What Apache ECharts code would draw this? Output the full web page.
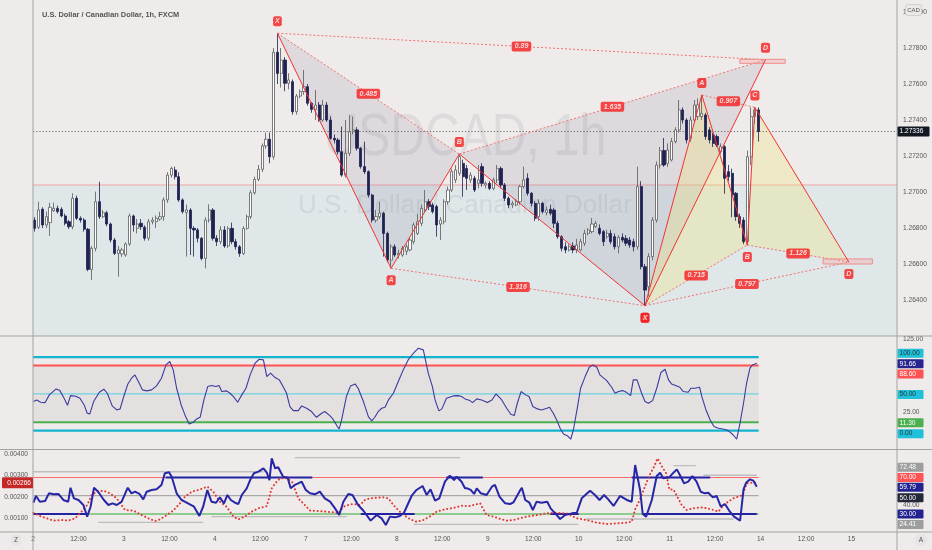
<!DOCTYPE html>
<html><head><meta charset="utf-8">
<script src="https://cdn.jsdelivr.net/npm/echarts@6/dist/echarts.min.js"></script>
<style>html,body{margin:0;padding:0;background:#eeebea;}#c{width:932px;height:550px;}</style>
</head><body><div id="c"></div><script>
// ---------- DATA ----------
const opens = [1.26844,1.26804,1.26904,1.26817,1.26830,1.26896,1.26909,1.26904,1.26867,1.26835,
1.26807,1.26965,1.26854,1.26844,1.26793,1.26570,1.26687,1.26946,1.26863,1.26885,
1.26822,1.26733,1.26659,1.26656,1.26650,1.26711,1.26867,1.26798,1.26826,1.26804,
1.26743,1.26835,1.26835,1.26850,1.26863,1.26956,1.27094,1.27122,1.27085,1.26956,
1.26885,1.26900,1.26798,1.26789,1.26743,1.26631,1.26844,1.26900,1.26743,1.26724,
1.26789,1.26700,1.26798,1.26724,1.26696,1.26659,1.26798,1.26863,1.26996,1.27070,
1.27126,1.27256,1.27293,1.27196,1.27776,1.27659,1.27733,1.27604,1.27613,1.27446,
1.27533,1.27558,1.27585,1.27493,1.27459,1.27483,1.27400,1.27483,1.27400,1.27298,
1.27289,1.27224,1.27094,1.27215,1.27335,1.27345,1.27243,1.27141,1.27113,1.26983,
1.26844,1.26863,1.26882,1.26770,1.26622,1.26696,1.26650,1.26650,1.26670,1.26678,
1.26724,1.26770,1.26826,1.26900,1.26946,1.26928,1.26919,1.26822,1.26835,1.26946,
1.27011,1.27067,1.27104,1.27159,1.27131,1.27067,1.27076,1.27048,1.27141,1.27039,
1.27048,1.27020,1.27067,1.27131,1.27039,1.26965,1.26928,1.26928,1.26946,1.27030,
1.27076,1.26993,1.26937,1.26863,1.26937,1.26885,1.26904,1.26900,1.26826,1.26752,
1.26696,1.26678,1.26700,1.26678,1.26678,1.26715,1.26770,1.26780,1.26808,1.26798,
1.26780,1.26752,1.26770,1.26752,1.26696,1.26748,1.26742,1.26733,1.26724,1.26696,
1.27030,1.26585,1.26474,1.26641,1.26844,1.27150,1.27230,1.27159,1.27178,1.27280,
1.27345,1.27456,1.27400,1.27298,1.27400,1.27420,1.27419,1.27428,1.27345,1.27317,
1.27308,1.27224,1.27252,1.27113,1.27104,1.26993,1.26863,1.26844,1.26724,1.27196,
1.27419,1.27456];
const closes = [1.26798,1.26900,1.26817,1.26863,1.26915,1.26909,1.26891,1.26867,1.26826,1.26807,
1.26965,1.26854,1.26844,1.26793,1.26570,1.26687,1.26946,1.26863,1.26885,1.26822,
1.26733,1.26659,1.26678,1.26678,1.26711,1.26867,1.26817,1.26822,1.26807,1.26743,
1.26835,1.26844,1.26854,1.26863,1.26956,1.27094,1.27131,1.27085,1.26956,1.26891,
1.26900,1.26798,1.26789,1.26743,1.26631,1.26844,1.26900,1.26743,1.26724,1.26789,
1.26700,1.26798,1.26724,1.26696,1.26659,1.26798,1.26863,1.26996,1.27070,1.27126,
1.27256,1.27293,1.27196,1.27776,1.27659,1.27733,1.27604,1.27622,1.27446,1.27533,
1.27558,1.27585,1.27493,1.27459,1.27483,1.27400,1.27483,1.27400,1.27298,1.27289,
1.27224,1.27094,1.27215,1.27335,1.27345,1.27243,1.27141,1.27113,1.26983,1.26844,
1.26863,1.26882,1.26770,1.26622,1.26696,1.26650,1.26659,1.26687,1.26696,1.26733,
1.26817,1.26835,1.26909,1.26946,1.26919,1.26891,1.26817,1.26844,1.26946,1.27011,
1.27113,1.27122,1.27196,1.27085,1.27076,1.27094,1.27011,1.27067,1.27048,1.27048,
1.27020,1.27067,1.27131,1.27039,1.26965,1.26928,1.26937,1.26946,1.27030,1.27067,
1.26993,1.26937,1.26854,1.26937,1.26891,1.26900,1.26882,1.26826,1.26752,1.26687,
1.26678,1.26696,1.26678,1.26705,1.26724,1.26770,1.26789,1.26822,1.26826,1.26770,
1.26724,1.26770,1.26724,1.26696,1.26748,1.26733,1.26715,1.26705,1.26696,1.27030,
1.26585,1.26455,1.26641,1.26844,1.27150,1.27230,1.27150,1.27233,1.27280,1.27345,
1.27456,1.27400,1.27289,1.27400,1.27483,1.27483,1.27437,1.27308,1.27289,1.27270,
1.27261,1.27252,1.27076,1.27085,1.26983,1.26863,1.26826,1.26724,1.27196,1.27419,
1.27456,1.27336];
const lows = [1.26780,1.26793,1.26800,1.26800,1.26756,1.26890,1.26880,1.26860,1.26815,1.26795,
1.26793,1.26845,1.26830,1.26780,1.26560,1.26511,1.26670,1.26850,1.26855,1.26810,
1.26720,1.26650,1.26530,1.26640,1.26640,1.26700,1.26780,1.26770,1.26790,1.26730,
1.26730,1.26820,1.26800,1.26840,1.26840,1.26940,1.27080,1.27070,1.26945,1.26880,
1.26641,1.26650,1.26641,1.26720,1.26620,1.26576,1.26830,1.26730,1.26700,1.26710,
1.26690,1.26690,1.26710,1.26680,1.26640,1.26650,1.26790,1.26850,1.26985,1.27060,
1.27110,1.27240,1.27160,1.27180,1.27600,1.27580,1.27560,1.27570,1.27430,1.27430,
1.27520,1.27540,1.27480,1.27440,1.27400,1.27390,1.27390,1.27390,1.27290,1.27270,
1.27210,1.27085,1.27080,1.27200,1.27320,1.27230,1.27130,1.27100,1.26970,1.26830,
1.26830,1.26850,1.26641,1.26610,1.26576,1.26640,1.26630,1.26640,1.26650,1.26670,
1.26710,1.26760,1.26810,1.26890,1.26900,1.26880,1.26752,1.26733,1.26820,1.26930,
1.27000,1.27050,1.27090,1.26974,1.27011,1.27050,1.27000,1.27020,1.27030,1.27020,
1.27010,1.27010,1.27050,1.27020,1.26950,1.26910,1.26910,1.26920,1.26930,1.27020,
1.26980,1.26920,1.26840,1.26840,1.26880,1.26870,1.26870,1.26800,1.26740,1.26670,
1.26660,1.26670,1.26660,1.26660,1.26670,1.26700,1.26760,1.26770,1.26800,1.26760,
1.26700,1.26740,1.26710,1.26680,1.26660,1.26720,1.26700,1.26690,1.26670,1.26680,
1.26570,1.26368,1.26420,1.26620,1.26830,1.27130,1.27140,1.27140,1.27170,1.27270,
1.27330,1.27380,1.27270,1.27280,1.27390,1.27400,1.27400,1.27290,1.27270,1.27250,
1.27250,1.27210,1.26990,1.27060,1.26860,1.26840,1.26800,1.26710,1.26705,1.27150,
1.27380,1.27280];
const highs = [1.26860,1.26946,1.26915,1.26891,1.26941,1.26941,1.26925,1.26915,1.26880,1.26845,
1.26993,1.26980,1.26865,1.26855,1.26800,1.26700,1.27002,1.27057,1.26900,1.26895,
1.26830,1.26745,1.26700,1.26690,1.26720,1.26880,1.26875,1.26850,1.26850,1.26815,
1.26850,1.26860,1.26870,1.26890,1.26970,1.27110,1.27141,1.27141,1.27110,1.26965,
1.26930,1.26910,1.26810,1.26800,1.26750,1.26860,1.26932,1.26910,1.26760,1.26810,
1.26810,1.26810,1.26830,1.26740,1.26705,1.26810,1.26875,1.27010,1.27085,1.27150,
1.27270,1.27330,1.27330,1.27800,1.27882,1.27800,1.27750,1.27660,1.27625,1.27545,
1.27570,1.27678,1.27600,1.27500,1.27567,1.27500,1.27511,1.27500,1.27420,1.27320,
1.27300,1.27363,1.27400,1.27428,1.27419,1.27360,1.27250,1.27280,1.27120,1.26990,
1.26900,1.26946,1.26890,1.26780,1.26710,1.26710,1.26680,1.26700,1.26710,1.26750,
1.26830,1.26880,1.26930,1.27011,1.26960,1.26940,1.26930,1.26860,1.26960,1.27030,
1.27130,1.27150,1.27211,1.27180,1.27150,1.27110,1.27090,1.27150,1.27160,1.27060,
1.27060,1.27080,1.27150,1.27141,1.27050,1.26975,1.26950,1.26960,1.27040,1.27141,
1.27104,1.27000,1.26950,1.26960,1.26946,1.26920,1.26930,1.26910,1.26840,1.26760,
1.26720,1.26710,1.26720,1.26740,1.26740,1.26790,1.26800,1.26855,1.26840,1.26820,
1.26790,1.26790,1.26790,1.26770,1.26760,1.26770,1.26760,1.26750,1.26740,1.27141,
1.27060,1.26600,1.26660,1.26860,1.27170,1.27250,1.27300,1.27270,1.27300,1.27360,
1.27511,1.27470,1.27410,1.27420,1.27511,1.27520,1.27539,1.27440,1.27360,1.27330,
1.27320,1.27270,1.27260,1.27150,1.27130,1.27000,1.26880,1.26860,1.27230,1.27470,
1.27470,1.27470];

const hourSlots = 228;                      // visible hourly slots on the time axis
const timeTickLabels = ['2','12:00','3','12:00','4','12:00','7','12:00','8','12:00','9','12:00','10','12:00','11','12:00','14','12:00','15','12:00'];
const priceZoneTop = 1.27039;

// harmonic patterns: [hour index, price]
const pat1Names = ['X','A','B','C','D'];
const pat1T = [64, 94, 112, 161, 192.8];
const pat1P = [1.27882, 1.26576, 1.27211, 1.26368, 1.27735];
const pat1Ratios = ['0.485','0.89','1.635','1.316'];
const pat1RatioLegs = [[0,2],[0,4],[2,4],[1,3]];
const pat1Zone = [186, 198, 1.27715, 1.27737];
const pat2Names = ['X','A','B','C','D'];
const pat2T = [161, 176, 188, 190, 214.8];
const pat2P = [1.26368, 1.27539, 1.26705, 1.27470, 1.26611];
const pat2Ratios = ['0.715','0.907','1.126','0.797'];
const pat2RatioLegs = [[0,2],[1,3],[2,4],[0,4]];
const pat2Zone = [208, 221, 1.26600, 1.26628];

// oscillator pane (hour index, value)
const stochOuterHigh = 100, stochHigh = 88.6, stochMid = 50, stochLow = 11.3, stochOuterLow = 0;
const stochTrace = [[-0.4,39.6],[0.5,41.8],[1.5,38.7],[2.7,38.2],[3.8,48.7],[5.6,56.8],[6.6,54.5],[7.7,44.1],[8.6,34.6],[9.4,47.7],[10.8,46.8],[11.9,44.1],[13.0,35.0],[13.8,23.7],[14.5,22.8],[15.5,39.6],[17.0,52.3],[18.2,56.4],[19.1,50.9],[20.4,33.7],[21.6,28.2],[22.5,29.6],[23.3,44.1],[24.5,63.2],[25.5,71.4],[26.4,75.9],[27.3,66.8],[28.4,55.5],[29.5,54.1],[30.8,55.5],[32.1,60.9],[33.4,71.4],[34.6,89.5],[35.6,94.1],[36.5,82.7],[37.4,57.7],[38.6,35.0],[39.6,21.4],[40.7,9.1],[41.8,11.4],[42.7,15.9],[43.6,18.2],[44.6,41.8],[45.6,60.0],[46.6,61.4],[47.8,60.0],[48.6,61.4],[49.3,53.2],[50.6,54.1],[51.5,50.9],[52.4,46.4],[53.5,38.7],[54.6,48.7],[55.7,57.7],[56.8,75.9],[58.1,91.8],[59.2,97.2],[60.3,96.3],[61.2,73.6],[62.2,78.2],[63.4,72.3],[64.5,69.1],[65.6,59.1],[66.4,50.9],[67.3,32.8],[68.2,27.3],[69.5,27.3],[70.4,33.7],[71.7,30.5],[73.0,26.0],[74.3,18.2],[75.7,23.7],[76.5,26.0],[77.9,20.0],[78.7,15.5],[79.8,5.5],[80.3,2.3],[80.9,13.7],[82.2,46.4],[83.3,60.9],[84.5,63.6],[85.3,57.7],[86.7,39.6],[88.0,19.1],[88.9,13.2],[89.7,18.2],[90.6,26.0],[91.5,30.5],[92.4,31.8],[93.3,41.8],[94.6,50.9],[95.9,66.8],[97.2,82.7],[98.5,96.3],[99.9,105.4],[101.2,112.2],[101.6,113.6],[102.5,110.0],[103.8,78.2],[104.9,60.0],[105.6,41.8],[106.6,26.9],[107.4,29.6],[108.6,44.1],[110.4,47.3],[111.7,47.7],[112.6,46.4],[113.5,43.2],[114.8,40.9],[115.5,38.2],[116.6,43.2],[117.9,41.8],[119.4,38.2],[120.6,41.8],[121.7,50.0],[123.2,41.8],[124.5,30.5],[125.6,22.3],[126.5,20.5],[127.3,37.3],[128.3,53.2],[129.5,48.7],[130.4,46.4],[131.4,32.8],[132.6,29.6],[133.7,28.2],[135.1,30.5],[135.8,31.8],[136.8,23.7],[137.7,14.6],[138.6,3.2],[139.5,-4.5],[140.5,-6.8],[141.4,-11.7],[142.1,0.9],[143.2,32.8],[144.0,57.7],[145.2,73.6],[146.3,86.3],[147.2,89.5],[148.3,86.3],[149.1,75.9],[150.9,68.2],[152.2,59.1],[153.1,50.9],[154.0,53.2],[155.1,54.5],[156.2,51.8],[157.2,47.7],[157.9,69.1],[158.9,69.1],[160.1,50.9],[161.0,39.6],[161.9,37.3],[163.0,40.9],[164.1,57.7],[165.2,79.1],[166.3,83.6],[167.2,69.1],[168.0,63.6],[169.4,60.9],[170.2,59.1],[171.1,53.2],[172.4,52.3],[173.1,57.7],[174.2,57.7],[175.4,59.1],[176.0,46.4],[177.1,28.2],[178.2,14.6],[179.2,5.5],[180.4,3.2],[181.5,2.3],[182.6,0.9],[183.6,-2.7],[184.3,-5.9],[185.2,-11.7],[186.1,11.0],[187.0,37.3],[187.8,64.5],[188.7,85.0],[189.4,89.5],[190.5,91.66]];

// RSI / ATR pane
const rsiUpper = 70, rsiMid = 50, rsiLower = 30;
const rsiTrace = [[-0.4,42.3],[0.3,49.7],[1.3,43.4],[2.7,44.2],[3.7,52.6],[4.9,51.5],[6.2,51.9],[7.5,45.3],[8.8,43.4],[9.4,58.8],[10.3,47.1],[11.5,45.3],[12.8,39.8],[13.8,27.0],[14.7,37.9],[15.6,58.8],[16.7,54.4],[18.2,45.3],[19.4,39.8],[20.5,41.6],[21.6,39.8],[22.9,43.4],[24.5,58.8],[25.5,52.6],[26.4,54.4],[27.6,51.9],[28.6,46.0],[29.5,54.4],[30.8,56.3],[32.1,57.0],[33.4,61.8],[34.3,74.6],[35.4,75.7],[36.1,70.9],[37.4,52.6],[38.7,45.3],[39.9,42.7],[40.9,40.5],[42.0,37.9],[43.4,27.7],[44.4,37.9],[45.5,56.3],[46.6,43.4],[47.8,42.3],[48.8,48.2],[49.9,41.6],[50.8,50.8],[51.7,45.3],[52.8,42.3],[53.7,40.9],[54.6,50.8],[55.9,58.1],[56.8,67.2],[57.8,74.6],[59.0,76.4],[60.3,80.1],[61.2,75.3],[61.9,67.2],[62.5,91.0],[63.4,80.1],[64.2,81.2],[65.5,70.9],[66.7,69.8],[67.5,58.1],[68.6,61.8],[69.5,63.6],[70.4,65.4],[71.5,56.3],[72.6,52.6],[73.9,51.5],[75.2,54.4],[76.5,47.1],[77.9,43.4],[79.2,36.1],[80.3,28.8],[81.4,43.4],[82.7,51.9],[83.8,50.8],[85.3,39.8],[86.7,33.5],[88.6,22.6],[90.2,28.8],[91.5,25.1],[92.6,17.8],[93.7,27.0],[95.0,26.2],[96.3,27.7],[97.4,31.3],[99.4,49.7],[100.7,56.3],[102.3,60.7],[103.4,50.8],[104.4,57.0],[105.6,44.5],[106.7,47.1],[108.2,65.4],[109.5,72.0],[110.6,67.2],[111.3,70.9],[112.6,65.4],[113.5,58.1],[114.1,58.1],[115.0,56.3],[115.9,51.9],[116.6,58.1],[117.7,52.6],[119.2,50.8],[120.6,59.9],[121.4,61.8],[122.6,48.9],[124.1,41.6],[125.4,40.9],[126.3,42.7],[128.1,56.3],[128.5,58.8],[129.4,45.3],[130.5,42.3],[131.4,34.3],[132.4,43.4],[133.7,42.3],[135.2,43.4],[136.1,36.1],[137.3,30.6],[138.6,24.4],[139.9,28.8],[141.7,30.6],[143.0,31.3],[144.3,47.1],[146.5,55.5],[147.8,50.8],[149.0,45.3],[150.2,50.8],[151.3,46.0],[152.7,38.7],[154.4,49.7],[156.2,45.3],[157.5,43.4],[158.4,83.7],[159.7,56.3],[160.4,29.9],[161.3,27.0],[162.8,45.3],[164.1,71.6],[165.0,75.3],[165.8,69.1],[167.4,70.2],[168.5,75.3],[169.4,78.9],[170.2,72.7],[171.3,63.6],[172.4,65.4],[173.5,71.6],[174.6,65.4],[175.7,54.4],[176.8,52.6],[177.7,53.3],[178.9,48.2],[179.9,49.7],[181.0,37.9],[182.1,40.9],[183.4,32.4],[184.5,27.0],[186.1,22.6],[187.0,57.0],[187.7,64.3],[188.7,68.0],[189.6,66.5],[190.5,59.79]];
const atrTrace = [[-0.4,0.00126],[1.3,0.00111],[3.1,0.00100],[4.9,0.00089],[7.5,0.00092],[8.8,0.00089],[10.6,0.00100],[12.3,0.00131],[13.8,0.00162],[15.0,0.00209],[16.3,0.00224],[18.1,0.00229],[19.8,0.00217],[21.6,0.00193],[23.8,0.00139],[26.0,0.00136],[28.2,0.00115],[29.9,0.00100],[31.7,0.00087],[33.0,0.00095],[34.8,0.00115],[36.5,0.00136],[38.3,0.00170],[39.6,0.00201],[41.4,0.00224],[43.6,0.00235],[45.5,0.00248],[47.1,0.00224],[48.8,0.00178],[50.6,0.00154],[52.4,0.00108],[53.7,0.00095],[55.4,0.00108],[57.2,0.00131],[59.0,0.00147],[61.2,0.00157],[62.5,0.00240],[63.6,0.00267],[64.7,0.00287],[66.6,0.00287],[68.0,0.00267],[69.5,0.00193],[70.8,0.00170],[72.6,0.00136],[74.8,0.00134],[77.0,0.00131],[78.7,0.00128],[80.1,0.00123],[81.4,0.00154],[82.7,0.00162],[84.0,0.00167],[85.8,0.00162],[87.1,0.00186],[88.4,0.00193],[90.2,0.00196],[91.9,0.00198],[93.3,0.00193],[94.6,0.00162],[96.3,0.00131],[97.7,0.00111],[99.1,0.00095],[100.7,0.00084],[102.5,0.00092],[104.2,0.00108],[106.0,0.00131],[108.2,0.00142],[110.4,0.00148],[112.6,0.00159],[114.8,0.00157],[115.7,0.00162],[117.5,0.00170],[119.2,0.00115],[121.0,0.00108],[122.8,0.00097],[124.5,0.00089],[126.3,0.00092],[128.0,0.00100],[129.8,0.00108],[132.4,0.00115],[135.1,0.00123],[137.7,0.00126],[140.3,0.00123],[143.0,0.00100],[145.6,0.00092],[148.2,0.00080],[150.9,0.00073],[153.5,0.00076],[156.2,0.00080],[157.5,0.00084],[158.4,0.00142],[159.7,0.00189],[161.3,0.00263],[162.5,0.00313],[163.2,0.00334],[164.3,0.00380],[165.4,0.00344],[166.6,0.00310],[167.4,0.00235],[168.5,0.00235],[169.5,0.00201],[170.7,0.00162],[172.0,0.00139],[173.8,0.00147],[175.5,0.00151],[177.3,0.00147],[179.0,0.00139],[180.4,0.00131],[181.7,0.00162],[183.0,0.00178],[184.3,0.00193],[185.6,0.00201],[186.8,0.00209],[187.8,0.00263],[189.2,0.00267],[190.5,0.00266]];
const rsiOverboughtRuns = [[34.5,73.2],[108.6,118.2],[157.5,178.2]];
const rsiOversoldRuns = [[-0.5,13.8],[86.0,100.2],[136.0,143.5],[160.4,190.5]];
const rsiRangeLines = [[-0.4,60.3,76.4],[16.7,44.4,20.7],[46.6,82.3,27.0],[68.6,112.2,91.8],[99.9,143.4,18.5],[145.4,184.3,24.41],[168.5,174.4,83.0],[176.4,190.5,72.48]];

// ---------- CHART ----------
const FONT = '"Liberation Sans", Arial, sans-serif';
const chart = echarts.init(document.getElementById('c'), null, {width:932, height:550});
const lastIdx = closes.length - 1;
const lastClose = closes[lastIdx];
const lastStoch = stochTrace[stochTrace.length-1][1];
const lastRsi = rsiTrace[rsiTrace.length-1][1];
const lastAtr = atrTrace[atrTrace.length-1][1];
const candleData = closes.map((c,i)=>[opens[i], c, lows[i], highs[i]]);
const slotCats = Array.from({length:hourSlots}, (_, i) => String(i));
const tickCats = Array.from({length:hourSlots+1}, (_, i) => String(i));
const T0 = -0.5, T1 = hourSlots - 0.5;

function lineS(xi, yi, data, color, width, type, z, cap) {
  return {type:'line', xAxisIndex:xi, yAxisIndex:yi, data, symbol:'none', silent:true, z:z||3,
    animation:false, clip:true, lineStyle:{color, width, type:type||'solid', cap:cap||'butt'}};
}
function hLine(xi, yi, t0, t1, v, color, width, type, z) {
  return lineS(xi, yi, [[t0,v],[t1,v]], color, width, type, z);
}
function rectS(xi, yi, rects, fill, stroke, z) {
  return {type:'custom', xAxisIndex:xi, yAxisIndex:yi, z, silent:true, animation:false,
    data: rects.map(r=>[r[0], r[2], r[1], r[3]]),
    encode:{x:[0,2], y:[1,3]},
    renderItem:(params, api) => {
      const a = api.coord([api.value(0), api.value(1)]);
      const b = api.coord([api.value(2), api.value(3)]);
      return {type:'rect', shape:{x:Math.min(a[0],b[0]), y:Math.min(a[1],b[1]),
        width:Math.abs(b[0]-a[0]), height:Math.abs(b[1]-a[1])},
        style:{fill, stroke:stroke||null, lineWidth:stroke?1:0}};
    }};
}
function triS(xi, yi, tris, fill, z) {
  return {type:'custom', xAxisIndex:xi, yAxisIndex:yi, z, silent:true, animation:false,
    data: tris.map(tr => [tr[0][0], tr[0][1]]),
    renderItem:(params, api) => {
      const tr = tris[params.dataIndex];
      return {type:'polygon', shape:{points: tr.map(p => api.coord(p))}, style:{fill}};
    }};
}
const labelBox = {show:true, position:'inside', color:'#fff', fontSize:7, fontStyle:'italic',
  fontWeight:'bold', fontFamily:FONT, backgroundColor:'#f51d1d', borderRadius:2, padding:[2,3,1,3], formatter:'{b}'};
function patternSeries(T, P, names, ratios, legs, zone, fill) {
  const pts = T.map((t,i)=>[t, P[i]]);
  const out = [];
  out.push(triS(1, 0, [[pts[0],pts[1],pts[2]],[pts[2],pts[3],pts[4]]], fill, 2));
  legs.forEach(l => out.push(lineS(1, 0, [pts[l[0]], pts[l[1]]], '#f47070', 1, [2,2], 5)));
  out.push(lineS(1, 0, pts, '#f03434', 1, 'solid', 6));
  out.push(rectS(1, 0, [zone], 'rgba(250,150,150,0.28)', '#ef8c8c', 6));
  out.push({type:'scatter', xAxisIndex:1, yAxisIndex:0, z:8, silent:true, symbolSize:0.1,
    itemStyle:{color:'rgba(0,0,0,0)'}, label:labelBox, animation:false,
    data: legs.map((l,i)=>({name:ratios[i], value:[(pts[l[0]][0]+pts[l[1]][0])/2, (pts[l[0]][1]+pts[l[1]][1])/2]}))});
  out.push({type:'scatter', xAxisIndex:1, yAxisIndex:0, z:8, silent:true, symbolSize:0.1,
    itemStyle:{color:'rgba(0,0,0,0)'}, animation:false,
    label:Object.assign({}, labelBox, {padding:[2,2,1,2]}),
    data: pts.map((p,i)=>{
      const ref = i>0 ? pts[i-1][1] : pts[i+1][1];
      const high = p[1] > ref;
      return {name:names[i], value:p, label:{offset:[0, high?-12:12]}};
    })});
  return out;
}

const axisText = {color:'#555', fontSize:6.6, fontFamily:FONT};
const hidden = {axisLine:{show:false}, axisTick:{show:false}, splitLine:{show:false}};

const series = [
  rectS(1, 0, [[T0, T1, 1.262, priceZoneTop]], '#dfe7e9', null, 0),
  hLine(1, 0, T0, T1, priceZoneTop, '#f2a3a3', 1.2, 'solid', 1),
  hLine(1, 0, T0, T1, lastClose, '#4a4a4a', 0.8, [1.2,2], 3),
  ...patternSeries(pat1T, pat1P, pat1Names, pat1Ratios, pat1RatioLegs, pat1Zone, 'rgba(125,115,150,0.15)'),
  ...patternSeries(pat2T, pat2P, pat2Names, pat2Ratios, pat2RatioLegs, pat2Zone, 'rgba(242,226,120,0.32)'),
  {type:'candlestick', xAxisIndex:0, yAxisIndex:0, data:candleData, barWidth:2.7, z:4, silent:true, animation:false,
    itemStyle:{color:'#ffffff', color0:'#1f2150', borderColor:'#5a5a5a', borderColor0:'#1f2150', borderWidth:0.8}},
  // oscillator pane
  rectS(2, 1, [[T0, lastIdx, stochLow, stochHigh]], 'rgba(90,70,70,0.065)', null, 1),
  hLine(2, 1, T0, lastIdx, stochMid, '#4fd0e2', 1, 'solid', 2),
  hLine(2, 1, T0, lastIdx, stochOuterHigh, '#14b4cf', 2.2, 'solid', 2),
  hLine(2, 1, T0, lastIdx, stochOuterLow, '#14b4cf', 2.2, 'solid', 2),
  hLine(2, 1, T0, lastIdx, stochHigh, '#ff5252', 2, 'solid', 2),
  hLine(2, 1, T0, lastIdx, stochLow, '#4caf50', 2, 'solid', 2),
  lineS(2, 1, stochTrace, '#3b3ba0', 1.1, 'solid', 5),
  // RSI / ATR pane
  hLine(3, 2, T0, lastIdx, rsiMid, '#9a9a9a', 1, 'solid', 2),
  hLine(3, 2, T0, lastIdx, rsiUpper, '#ff6a6a', 1, 'solid', 2),
  hLine(3, 2, T0, lastIdx, rsiLower, '#6cc070', 1.5, 'solid', 2),
  ...rsiOverboughtRuns.map(r => hLine(3, 2, r[0], r[1], rsiUpper, '#2424a0', 2, 'solid', 3)),
  ...rsiOversoldRuns.map(r => hLine(3, 2, r[0], r[1], rsiLower, '#2424a0', 2, 'solid', 3)),
  ...rsiRangeLines.map(r => hLine(3, 2, r[0], r[1], r[2], '#bdbdbd', 1.4, 'solid', 2)),
  lineS(3, 3, atrTrace, '#e3342f', 2, [0.1, 3.7], 4, 'round'),
  lineS(3, 2, rsiTrace, '#2626a6', 2, 'solid', 5)
];

const option = {
  backgroundColor:'#eeebea',
  animation:false,
  title:{text:'U.S. Dollar / Canadian Dollar, 1h, FXCM', left:37, top:6,
    textStyle:{fontSize:7.4, color:'#555', fontWeight:600, fontFamily:FONT}},
  grid:[
    {left:33, right:35, top:0, height:336},
    {left:33, right:35, top:337, height:112},
    {left:33, right:35, top:450.2, height:81.9}
  ],
  xAxis:[
    Object.assign({type:'category', gridIndex:0, data:slotCats, boundaryGap:true, axisLabel:{show:false}}, hidden),
    Object.assign({type:'value', gridIndex:0, min:T0, max:T1, axisLabel:{show:false}}, hidden),
    Object.assign({type:'value', gridIndex:1, min:T0, max:T1, axisLabel:{show:false}}, hidden),
    Object.assign({type:'value', gridIndex:2, min:T0, max:T1, axisLabel:{show:false}}, hidden),
    Object.assign({type:'category', gridIndex:2, data:tickCats, boundaryGap:false, position:'bottom',
      axisLabel:Object.assign({}, axisText, {margin:4,
        interval:(i) => i % 12 === 0 && i < hourSlots,
        formatter:(v, i) => timeTickLabels[i/12] || ''})}, hidden)
  ],
  yAxis:[
    Object.assign({type:'value', gridIndex:0, position:'right', min:1.262, max:1.262 + 336/36*0.002, interval:0.002,
      axisLabel:Object.assign({}, axisText, {margin:6, showMinLabel:false, showMaxLabel:false,
        formatter:(v) => v.toFixed(5)})}, hidden),
    Object.assign({type:'value', gridIndex:1, position:'right', min:-25, max:127.5, interval:25,
      axisLabel:Object.assign({}, axisText, {margin:6, showMaxLabel:false,
        formatter:(v) => (v === 125 || v === 25) ? v.toFixed(2) : ''})}, hidden),
    Object.assign({type:'value', gridIndex:2, position:'right', min:10, max:100, interval:10,
      axisLabel:Object.assign({}, axisText, {margin:6,
        formatter:(v) => v === 40 ? v.toFixed(2) : ''})}, hidden),
    Object.assign({type:'value', gridIndex:2, position:'left', min:0.000355, max:0.004182,
      axisLabel:Object.assign({}, axisText, {margin:5,
        formatter:(v) => Math.abs(v*1000 - Math.round(v*1000)) < 1e-6 ? v.toFixed(5) : ''})}, hidden)
  ],
  series
};
chart.setOption(option);

// ---------- overlays: separators, watermark, value tags ----------
const G = [];
const sep = '#a3a3a3';
G.push({type:'text', x:465, y:138, scaleX:0.8, z:1, silent:true,
  style:{text:'USDCAD, 1h', x:0, y:0, align:'center', verticalAlign:'middle',
    font:'60px ' + FONT, fill:'rgba(70,70,90,0.09)'}});
G.push({type:'text', x:465, y:206, z:1, silent:true,
  style:{text:'U.S. Dollar / Canadian Dollar', align:'center', verticalAlign:'middle',
    font:'26px ' + FONT, fill:'rgba(70,70,90,0.09)'}});
[336, 449.5, 532].forEach(y => G.push({type:'line', z:50, silent:true,
  shape:{x1:0, y1:y, x2:932, y2:y}, style:{stroke:sep, lineWidth:1}}));
[33, 897].forEach(x => G.push({type:'line', z:50, silent:true,
  shape:{x1:x, y1:0, x2:x, y2:550}, style:{stroke:sep, lineWidth:1}}));

function tag(y, text, bg, fg, x, w, h, alignRight) {
  G.push({type:'rect', z:60, silent:true, shape:{x, y:y-h/2, width:w, height:h, r:1}, style:{fill:bg}});
  G.push({type:'text', z:61, silent:true, style:{text, x: alignRight ? x+w-2 : x+2, y,
    align: alignRight ? 'right' : 'left', verticalAlign:'middle', font:'6.6px ' + FONT, fill:fg}});
}
const py = (ai, v) => chart.convertToPixel({yAxisIndex:ai}, v);
tag(py(0, lastClose), lastClose.toFixed(5), '#131722', '#ffffff', 897.5, 32, 10);
const rightTags = [
  [1, stochOuterHigh, '#1fc0d8', '#26343a', -4],
  [1, lastStoch, '#26268e', '#ffffff', 0.5],
  [1, stochHigh, '#ff5252', '#ffffff', 8.5],
  [1, stochMid, '#1fc0d8', '#26343a', 0.5],
  [1, stochLow, '#4caf50', '#ffffff', 0.5],
  [1, stochOuterLow, '#1fc0d8', '#26343a', 3],
  [2, rsiRangeLines[rsiRangeLines.length-1][2], '#9e9e9e', '#ffffff', -8],
  [2, rsiUpper, '#ff5252', '#ffffff', 0],
  [2, lastRsi, '#23238f', '#ffffff', 0.5],
  [2, rsiMid, '#252838', '#ffffff', 2],
  [2, rsiLower, '#23238f', '#ffffff', 0],
  [2, rsiRangeLines[rsiRangeLines.length-3][2], '#9e9e9e', '#ffffff', 5.5]
];
rightTags.forEach(t => tag(py(t[0], t[1]) + t[4], t[1].toFixed(2), t[2], t[3], 897.5, 26, 9));
tag(py(3, lastAtr), lastAtr.toFixed(5), '#c62828', '#ffffff', 2, 31, 11, true);

// CAD badge and corner buttons
G.push({type:'rect', z:62, silent:true, shape:{x:905.5, y:4.5, width:16, height:11, r:2},
  style:{fill:'#ebe8e7', stroke:'#c9c9c9', lineWidth:0.8}});
G.push({type:'text', z:63, silent:true, style:{text:'CAD', x:913.5, y:10, align:'center', verticalAlign:'middle',
  font:'6px ' + FONT, fill:'#555'}});
G.push({type:'rect', z:62, silent:true, shape:{x:11, y:535, width:10, height:10, r:3}, style:{fill:'#e6e4e4'}});
G.push({type:'text', z:63, silent:true, style:{text:'Z', x:16, y:540, align:'center', verticalAlign:'middle',
  font:'6.6px ' + FONT, fill:'#555'}});
G.push({type:'rect', z:62, silent:true, shape:{x:915, y:534.5, width:12, height:11, r:5}, style:{fill:'#e6e4e4'}});
G.push({type:'text', z:63, silent:true, style:{text:'A', x:921, y:540, align:'center', verticalAlign:'middle',
  font:'6.6px ' + FONT, fill:'#555'}});

chart.setOption({graphic:{elements:G}});
</script></body></html>
